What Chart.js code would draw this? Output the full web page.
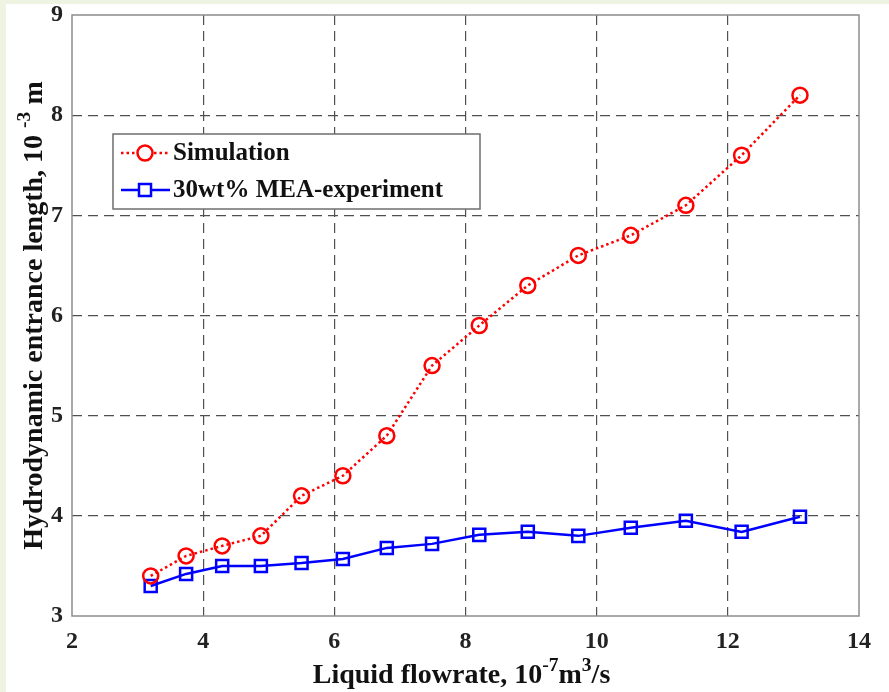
<!DOCTYPE html>
<html>
<head>
<meta charset="utf-8">
<script src="https://cdn.jsdelivr.net/npm/chart.js@4.4.1/dist/chart.umd.min.js"></script>
<style>
  html, body { margin: 0; padding: 0; background: #eef3e2; }
  #wrap { position: absolute; left: 6px; top: 4px; width: 883px; height: 688px; background: #fff; }
</style>
</head>
<body>
<div id="wrap"><canvas id="entranceChart" width="883" height="688"></canvas></div>
<script>
// liquid flowrate, 10^-7 m3/s
const flowrate = [3.2, 3.74, 4.29, 4.88, 5.5, 6.13, 6.8, 7.49, 8.21, 8.95, 9.72, 10.52, 11.36, 12.21, 13.1];
// hydrodynamic entrance length, 10^-3 m
const simulation = [3.4, 3.6, 3.7, 3.8, 4.2, 4.4, 4.8, 5.5, 5.9, 6.3, 6.6, 6.8, 7.1, 7.6, 8.2];
const experiment = [3.3, 3.42, 3.5, 3.5, 3.53, 3.57, 3.68, 3.72, 3.81, 3.84, 3.8, 3.88, 3.95, 3.84, 3.99];
const seriesNames = ['Simulation', '30wt% MEA-experiment'];
const xTicks = [2, 4, 6, 8, 10, 12, 14];
const yTicks = [3, 4, 5, 6, 7, 8, 9];

const serif = '"Liberation Serif", "DejaVu Serif", serif';
const toPoints = (ys) => ys.map((y, i) => ({ x: flowrate[i], y: y }));

// text with superscript pieces: [[text, isSup], ...], centred on the origin
function drawRich(ctx, parts, size) {
  let total = 0;
  parts.forEach(([t, sup]) => {
    ctx.font = 'bold ' + (sup ? size * 0.7 : size) + 'px ' + serif;
    total += ctx.measureText(t).width;
  });
  let x = -total / 2;
  parts.forEach(([t, sup]) => {
    ctx.font = 'bold ' + (sup ? size * 0.7 : size) + 'px ' + serif;
    ctx.fillText(t, x, sup ? -size * 0.42 : 0);
    x += ctx.measureText(t).width;
  });
}

const decorations = {
  id: 'decorations',
  afterDraw(chart) {
    const ctx = chart.ctx;
    const a = chart.chartArea;
    ctx.save();
    // box around the axes
    ctx.strokeStyle = '#8c8c8c';
    ctx.lineWidth = 1.5;
    ctx.strokeRect(a.left, a.top, a.right - a.left, a.bottom - a.top);

    // axis titles
    ctx.fillStyle = '#111';
    ctx.textBaseline = 'alphabetic';
    ctx.save();
    ctx.translate((a.left + a.right) / 2 - 4, 679);
    drawRich(ctx, [['Liquid flowrate, 10', false], ['-7', true], ['m', false], ['3', true], ['/s', false]], 28);
    ctx.restore();
    ctx.save();
    ctx.translate(36, (a.top + a.bottom) / 2);
    ctx.rotate(-Math.PI / 2);
    drawRich(ctx, [['Hydrodynamic entrance length, 10 ', false], ['-3', true], [' m', false]], 28);
    ctx.restore();

    // legend
    const lx = 107, ly = 130, lw = 367, lh = 75;
    ctx.fillStyle = '#fff';
    ctx.fillRect(lx, ly, lw, lh);
    ctx.strokeStyle = '#6e6e6e';
    ctx.lineWidth = 1.5;
    ctx.strokeRect(lx, ly, lw, lh);
    chart.data.datasets.forEach((ds, i) => {
      const cy = ly + 19 + i * 37;
      ctx.strokeStyle = ds.borderColor;
      ctx.lineWidth = ds.borderWidth;
      ctx.setLineDash(ds.borderDash || []);
      ctx.beginPath();
      ctx.moveTo(lx + 8, cy);
      ctx.lineTo(lx + 57, cy);
      ctx.stroke();
      ctx.setLineDash([]);
      ctx.fillStyle = '#fff';
      ctx.strokeStyle = ds.borderColor;
      ctx.lineWidth = ds.pointBorderWidth;
      Chart.helpers.drawPoint(ctx, {
        pointStyle: ds.pointStyle,
        radius: ds.pointRadius,
        borderWidth: ds.pointBorderWidth,
        rotation: 0
      }, lx + 32, cy);
      ctx.fillStyle = '#111';
      ctx.font = 'bold 25px ' + serif;
      ctx.textBaseline = 'middle';
      ctx.fillText(ds.label, lx + 60, cy + 1);
    });
    ctx.restore();
  }
};

new Chart(document.getElementById('entranceChart'), {
  type: 'scatter',
  data: {
    datasets: [
      {
        label: seriesNames[0],
        data: toPoints(simulation),
        showLine: true,
        borderColor: '#ff0000',
        borderWidth: 2.5,
        borderDash: [2.5, 3],
        pointStyle: 'circle',
        pointRadius: 7.5,
        pointBorderWidth: 2.5,
        pointBorderColor: '#ff0000',
        pointBackgroundColor: 'rgba(0,0,0,0)',
      },
      {
        label: seriesNames[1],
        data: toPoints(experiment),
        showLine: true,
        borderColor: '#0000ff',
        borderWidth: 2.5,
        pointStyle: 'rect',
        pointRadius: 8.5,
        pointBorderWidth: 2.5,
        pointBorderColor: '#0000ff',
        pointBackgroundColor: 'rgba(0,0,0,0)',
      },
    ],
  },
  options: {
    responsive: false,
    animation: false,
    layout: { padding: { left: 0, top: 11, right: 30, bottom: 0 } },
    plugins: {
      legend: { display: false },
      tooltip: { enabled: false },
    },
    scales: {
      x: {
        type: 'linear',
        min: 2,
        max: 14,
        afterBuildTicks: (s) => { s.ticks = xTicks.map((v) => ({ value: v })); },
        afterFit: (s) => {
          s.height = 76;
          s.paddingLeft = 0;
          s.paddingRight = 0;
        },
        grid: {
          color: (c) => (c.tick.value === 2 || c.tick.value === 14 ? 'rgba(0,0,0,0)' : '#505050'),
          lineWidth: 1.2,
          drawTicks: false,
        },
        border: { display: false, dash: [10, 6] },
        ticks: {
          padding: 11,
          color: '#222',
          font: { family: serif, size: 24, weight: 'bold' },
        },
      },
      y: {
        type: 'linear',
        min: 3,
        max: 9,
        afterBuildTicks: (s) => { s.ticks = yTicks.map((v) => ({ value: v })); },
        afterFit: (s) => {
          s.width = 66;
          s.paddingTop = 0;
          s.paddingBottom = 0;
        },
        grid: {
          color: (c) => (c.tick.value === 3 || c.tick.value === 9 ? 'rgba(0,0,0,0)' : '#505050'),
          lineWidth: 1.2,
          drawTicks: false,
        },
        border: { display: false, dash: [10, 6] },
        ticks: {
          padding: 9,
          color: '#222',
          font: { family: serif, size: 24, weight: 'bold' },
        },
      },
    },
  },
  plugins: [decorations],
});
</script>
</body>
</html>
